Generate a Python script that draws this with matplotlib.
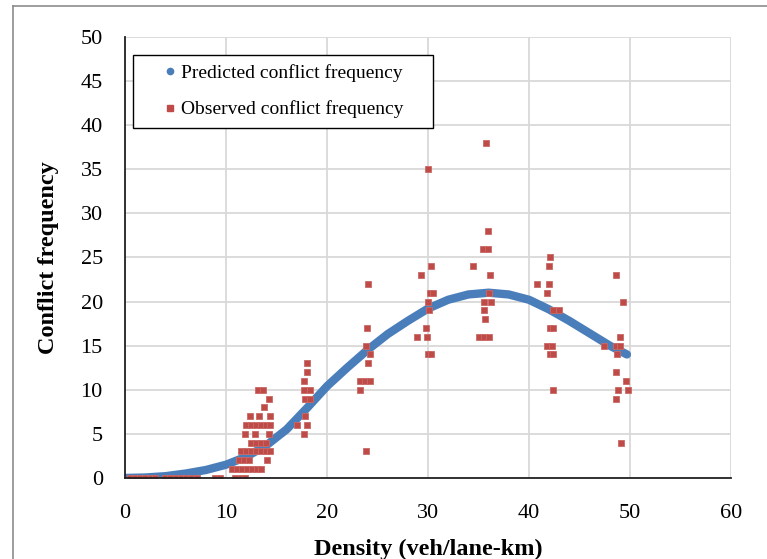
import matplotlib
matplotlib.use('Agg')
import matplotlib.pyplot as plt
from matplotlib.lines import Line2D

# predicted curve
pred_x = [0, 2, 4, 6, 8, 10, 12, 14, 16, 18, 20, 22, 24, 26, 28, 30,
          32, 34, 36, 38, 40, 42, 44, 46, 48, 49.7]
pred_y = [0, 0.05, 0.2, 0.5, 0.9, 1.5, 2.4, 3.7, 5.5, 7.9, 10.4, 12.5, 14.5,
          16.3, 17.8, 19.2, 20.2, 20.8, 21.0, 20.8, 20.2, 19.1, 17.8, 16.4,
          15.0, 14.0]

# observed conflicts
obs_x = [0.5, 1.0, 1.5, 2.0, 2.6, 3.0, 4.0, 4.5, 5.0, 5.5, 6.0, 6.5, 7.1,
         8.9, 9.4, 10.9, 11.5, 11.9,
         10.6, 11.1, 11.6, 12.1, 12.6, 13.1, 13.5,
         11.3, 11.8, 12.3, 14.1,
         11.5, 12.0, 12.5, 13.0, 13.5, 14.0, 14.4,
         12.5, 13.0, 13.5, 14.0,
         11.9, 12.9, 14.3,
         12.0, 12.5, 13.0, 13.5, 14.0, 14.4,
         12.4, 13.3, 14.4,
         13.8, 14.3, 13.2, 13.7,
         17.7, 17.0, 18.0, 17.8, 17.8, 18.3, 17.7, 18.3, 17.7, 18.0, 18.0,
         23.9, 23.3, 23.3, 23.8, 24.3, 24.1, 24.3, 23.9, 24.0, 24.1,
         30.0, 30.3, 28.9, 29.9, 29.8, 30.1, 30.0, 30.2, 30.5, 29.3, 30.3, 30.0,
         35.1, 35.5, 36.0, 35.6, 35.5, 35.5, 36.2, 36.0, 36.1, 34.5, 35.4,
         35.9, 35.9, 35.7,
         42.4, 42.1, 42.4, 41.8, 42.3, 42.1, 42.4, 42.4, 43.0, 41.8, 40.8,
         42.0, 42.0, 42.1,
         49.1, 48.6, 48.8, 49.8, 49.6, 48.6, 48.7, 47.4, 48.6, 49.0, 49.0,
         49.3, 48.6]
obs_y = [0, 0, 0, 0, 0, 0, 0, 0, 0, 0, 0, 0, 0,
         0, 0, 0, 0, 0,
         1, 1, 1, 1, 1, 1, 1,
         2, 2, 2, 2,
         3, 3, 3, 3, 3, 3, 3,
         4, 4, 4, 4,
         5, 5, 5,
         6, 6, 6, 6, 6, 6,
         7, 7, 7,
         8, 9, 10, 10,
         5, 6, 6, 7, 9, 9, 10, 10, 11, 12, 13,
         3, 10, 11, 11, 11, 13, 14, 15, 17, 22,
         14, 14, 16, 16, 17, 19, 20, 21, 21, 23, 24, 35,
         16, 16, 16, 18, 19, 20, 20, 21, 23, 24, 26,
         26, 28, 38,
         10, 14, 14, 15, 15, 17, 17, 19, 19, 21, 22,
         22, 24, 25,
         4, 9, 10, 10, 11, 12, 14, 15, 15, 15, 16,
         20, 23]

blue = '#4A7EBB'
red = '#BE4B48'

plt.rcParams['font.family'] = ['Liberation Serif', 'DejaVu Serif']

fig = plt.figure(figsize=(7.67, 5.59), dpi=100)
ax = fig.add_axes([0.163, 0.145, 0.79, 0.789])

ax.plot(pred_x, pred_y, color=blue, lw=6, solid_capstyle='round', zorder=3)
ax.plot(obs_x, obs_y, ls='none', marker='s', ms=4.6, color=red,
        mec='#C96A67', mew=0.6, zorder=4)

ax.set_xlim(0, 60)
ax.set_ylim(0, 50)
ax.set_xticks(range(0, 61, 10))
ax.set_yticks(range(0, 51, 5))
ax.grid(True, color='#D9D9D9', lw=1.3)
ax.set_axisbelow(True)
ax.tick_params(length=0, labelsize=16)
ax.tick_params(axis='x', pad=19)
ax.tick_params(axis='y', pad=16)
for s in ['top', 'right']:
    ax.spines[s].set_visible(False)
for s in ['left', 'bottom']:
    ax.spines[s].set_color('#222222')
    ax.spines[s].set_linewidth(1.3)
    ax.spines[s].set_zorder(5)

ax.set_xlabel('Density (veh/lane-km)', fontsize=17.5, fontweight='bold', labelpad=11)
ax.set_ylabel('Conflict frequency', fontsize=17.5, fontweight='bold', labelpad=15.5)

handles = [Line2D([], [], ls='none', marker='o', ms=4.5, color=blue),
           Line2D([], [], ls='none', marker='s', ms=4.5, color=red)]
leg = ax.legend(handles, ['Predicted conflict frequency', 'Observed conflict frequency'],
                loc='upper left', bbox_to_anchor=(0.013, 0.0, 0.495, 0.96),
                mode='expand', fontsize=14,
                fancybox=False, edgecolor='black', framealpha=1,
                handlelength=2.8, handletextpad=-0.84, borderpad=0.5,
                labelspacing=0.95, borderaxespad=0)
leg.get_frame().set_linewidth(1.0)

# outer chart border
fig.add_artist(Line2D([13 / 767, 1], [1 - 6 / 559, 1 - 6 / 559], color='#8C8C8C', lw=1.2))
fig.add_artist(Line2D([13 / 767, 13 / 767], [0, 1 - 6 / 559], color='#8C8C8C', lw=1.2))

fig.savefig('out.png', dpi=100)
